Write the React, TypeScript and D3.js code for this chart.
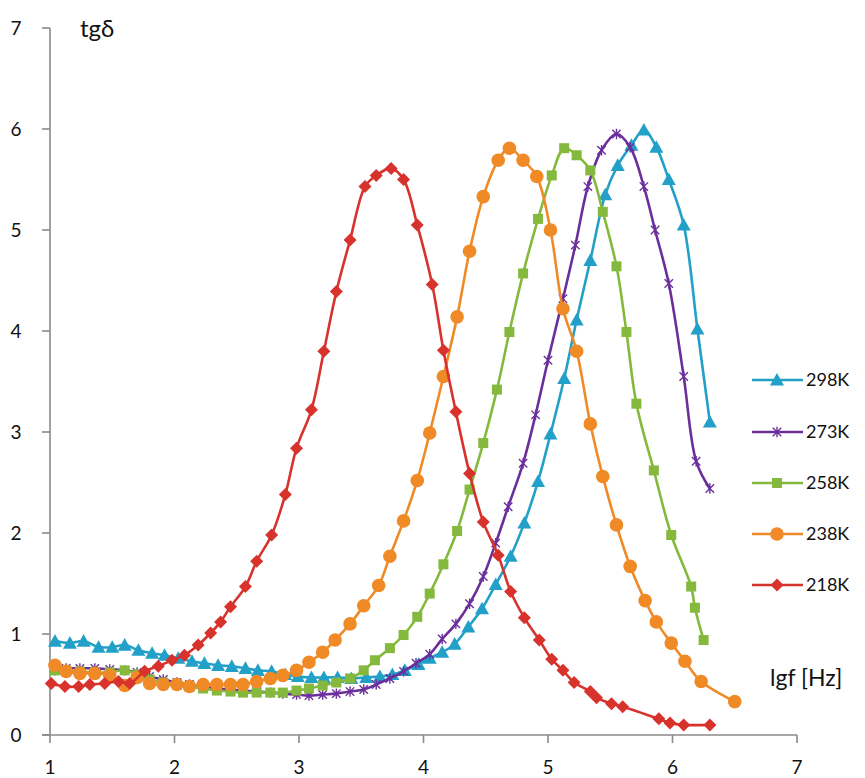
import React from 'react';
import * as d3 from 'd3';

const xTicks = [1, 2, 3, 4, 5, 6, 7];
const yTicks = [0, 1, 2, 3, 4, 5, 6, 7];
const seriesNames = ['298K', '273K', '258K', '238K', '218K'];
const seriesColors = ['#22a0c8', '#6b2f9c', '#85b93d', '#f08a26', '#d8322c'];
const seriesMarkers = ['triangle', 'star', 'square', 'circle', 'diamond'];

const lgf298 = [1.04,1.16,1.27,1.39,1.50,1.60,1.71,1.82,1.92,2.03,2.14,2.24,2.35,2.46,2.57,2.67,2.78,2.89,2.99,3.10,3.20,3.31,3.42,3.54,3.65,3.75,3.85,3.96,4.05,4.15,4.25,4.36,4.47,4.58,4.70,4.81,4.92,5.02,5.13,5.23,5.34,5.46,5.56,5.67,5.77,5.87,5.97,6.09,6.20,6.30];
const tan298 = [0.93,0.91,0.93,0.87,0.87,0.89,0.84,0.81,0.79,0.76,0.73,0.71,0.69,0.68,0.66,0.64,0.63,0.60,0.58,0.57,0.57,0.57,0.56,0.57,0.58,0.60,0.64,0.70,0.76,0.82,0.90,1.07,1.25,1.49,1.77,2.10,2.51,2.98,3.53,4.11,4.70,5.35,5.64,5.84,5.99,5.82,5.50,5.05,4.02,3.10];

const lgf273 = [1.04,1.13,1.24,1.36,1.48,1.60,1.70,1.80,1.91,2.02,2.12,2.23,2.34,2.45,2.55,2.66,2.77,2.87,2.98,3.08,3.19,3.30,3.41,3.52,3.62,3.73,3.84,3.94,4.05,4.15,4.26,4.37,4.48,4.58,4.68,4.80,4.90,5.00,5.12,5.22,5.32,5.43,5.55,5.66,5.77,5.86,5.97,6.09,6.19,6.30];
const tan273 = [0.64,0.66,0.66,0.66,0.65,0.64,0.62,0.58,0.55,0.52,0.50,0.48,0.46,0.45,0.44,0.43,0.42,0.41,0.40,0.39,0.40,0.41,0.43,0.45,0.50,0.56,0.63,0.71,0.80,0.95,1.10,1.30,1.57,1.90,2.26,2.69,3.17,3.71,4.32,4.85,5.43,5.79,5.95,5.82,5.43,5.00,4.47,3.55,2.71,2.44];

const lgf258 = [1.04,1.13,1.24,1.36,1.48,1.60,1.70,1.80,1.91,2.02,2.12,2.23,2.34,2.45,2.55,2.66,2.77,2.87,2.98,3.08,3.19,3.30,3.41,3.52,3.61,3.73,3.84,3.95,4.05,4.16,4.27,4.37,4.48,4.59,4.69,4.80,4.92,5.03,5.13,5.23,5.34,5.44,5.55,5.63,5.71,5.85,5.99,6.15,6.18,6.25];
const tan258 = [0.64,0.64,0.63,0.62,0.62,0.64,0.60,0.55,0.52,0.50,0.48,0.46,0.44,0.43,0.42,0.42,0.42,0.42,0.44,0.46,0.49,0.52,0.56,0.64,0.74,0.86,0.99,1.17,1.40,1.69,2.02,2.43,2.89,3.42,3.99,4.57,5.11,5.54,5.81,5.74,5.59,5.18,4.64,3.99,3.28,2.62,1.98,1.47,1.26,0.94];

const lgf238 = [1.04,1.13,1.24,1.36,1.48,1.60,1.70,1.80,1.91,2.02,2.12,2.23,2.34,2.45,2.55,2.66,2.77,2.87,2.98,3.08,3.19,3.29,3.41,3.52,3.64,3.73,3.84,3.95,4.05,4.16,4.27,4.37,4.48,4.60,4.69,4.80,4.91,5.02,5.12,5.23,5.34,5.44,5.55,5.66,5.78,5.87,5.99,6.10,6.23,6.50];
const tan238 = [0.69,0.63,0.61,0.61,0.59,0.49,0.57,0.51,0.50,0.50,0.48,0.50,0.50,0.50,0.50,0.53,0.56,0.59,0.64,0.72,0.82,0.94,1.10,1.28,1.48,1.77,2.12,2.52,2.99,3.55,4.14,4.79,5.33,5.69,5.81,5.69,5.53,5.00,4.22,3.80,3.08,2.56,2.08,1.67,1.33,1.12,0.91,0.73,0.53,0.33];

const lgf218 = [1.01,1.12,1.23,1.32,1.44,1.55,1.64,1.76,1.87,1.98,2.08,2.19,2.29,2.37,2.45,2.57,2.66,2.78,2.89,2.98,3.10,3.20,3.30,3.41,3.53,3.62,3.74,3.84,3.95,4.07,4.16,4.26,4.37,4.48,4.60,4.70,4.81,4.93,5.03,5.12,5.21,5.34,5.39,5.51,5.60,5.89,5.98,6.09,6.30];
const tan218 = [0.51,0.48,0.48,0.50,0.51,0.53,0.51,0.63,0.68,0.74,0.79,0.89,1.01,1.12,1.27,1.47,1.72,1.98,2.38,2.84,3.22,3.80,4.39,4.90,5.43,5.54,5.61,5.50,5.05,4.46,3.81,3.20,2.59,2.11,1.78,1.42,1.16,0.94,0.75,0.64,0.52,0.43,0.37,0.31,0.28,0.16,0.12,0.10,0.10];

const seriesX = [lgf298, lgf273, lgf258, lgf238, lgf218];
const seriesY = [tan298, tan273, tan258, tan238, tan218];

const W = 865;
const H = 778;
const axisColor = '#8a8a8a';
const font = "Lato, 'Noto Sans', 'DejaVu Sans', sans-serif";

function Marker({ type, x, y, color }: { type: string; x: number; y: number; color: string }) {
  if (type === 'triangle') {
    const s = 7;
    return <path d={`M${x},${y - s}L${x + s},${y + s * 0.8}L${x - s},${y + s * 0.8}Z`} fill={color} />;
  }
  if (type === 'square') {
    const s = 5;
    return <rect x={x - s} y={y - s} width={2 * s} height={2 * s} fill={color} />;
  }
  if (type === 'circle') {
    return <circle cx={x} cy={y} r={6.8} fill={color} />;
  }
  if (type === 'diamond') {
    const s = 6.5;
    return <path d={`M${x},${y - s}L${x + s},${y}L${x},${y + s}L${x - s},${y}Z`} fill={color} />;
  }
  const s = 4.2;
  return (
    <path
      d={`M${x - s},${y - s}L${x + s},${y + s}M${x - s},${y + s}L${x + s},${y - s}M${x},${y - s - 1}L${x},${y + s + 1}`}
      stroke={color}
      strokeWidth={1.4}
      fill="none"
    />
  );
}

export default function App() {
  const x = d3.scaleLinear().domain([1, 7]).range([50, 797]);
  const y = d3.scaleLinear().domain([0, 7]).range([735, 28]);
  const line = d3
    .line<[number, number]>()
    .x((d) => x(d[0]))
    .y((d) => y(d[1]))
    .curve(d3.curveCatmullRom.alpha(0.5));

  const legendY = [380, 432, 483, 534, 585];

  return (
    <svg width={W} height={H} style={{ position: 'absolute', left: 0, top: 0, background: '#fff' }} fontFamily={font}>
      <rect width={W} height={H} fill="#fff" />
      <line x1={x(1)} x2={x(1)} y1={y(7)} y2={y(0)} stroke={axisColor} strokeWidth={1.6} />
      <line x1={x(1) - 8} x2={x(7)} y1={y(0)} y2={y(0)} stroke={axisColor} strokeWidth={1.6} />
      {yTicks.map((t) => (
        <g key={'y' + t}>
          <line x1={x(1) - 8} x2={x(1)} y1={y(t)} y2={y(t)} stroke={axisColor} strokeWidth={1.6} />
          <text x={16} y={y(t)} dy="0.35em" textAnchor="middle" fontSize={19} fill="#111">
            {t}
          </text>
        </g>
      ))}
      {xTicks.map((t) => (
        <g key={'x' + t}>
          <line x1={x(t)} x2={x(t)} y1={y(0)} y2={y(0) + 8} stroke={axisColor} strokeWidth={1.6} />
          <text x={x(t)} y={767} dy="0.35em" textAnchor="middle" fontSize={19} fill="#111">
            {t}
          </text>
        </g>
      ))}
      <text x={80} y={37} fontSize={24} fill="#111">tgδ</text>
      <text x={770} y={686} fontSize={23} fill="#111">lgf [Hz]</text>

      {seriesNames.map((name, i) => {
        const pts = seriesX[i].map((v, j) => [v, seriesY[i][j]] as [number, number]);
        return (
          <g key={name}>
            <path d={line(pts) || ''} fill="none" stroke={seriesColors[i]} strokeWidth={2.6} />
            {pts.map((p, j) => (
              <Marker key={j} type={seriesMarkers[i]} x={x(p[0])} y={y(p[1])} color={seriesColors[i]} />
            ))}
          </g>
        );
      })}

      {seriesNames.map((name, i) => (
        <g key={'lg' + name}>
          <line x1={752} x2={803} y1={legendY[i]} y2={legendY[i]} stroke={seriesColors[i]} strokeWidth={2.6} />
          <Marker type={seriesMarkers[i]} x={777} y={legendY[i]} color={seriesColors[i]} />
          <text x={806} y={legendY[i]} dy="0.35em" fontSize={18} fill="#111">
            {name}
          </text>
        </g>
      ))}
    </svg>
  );
}
